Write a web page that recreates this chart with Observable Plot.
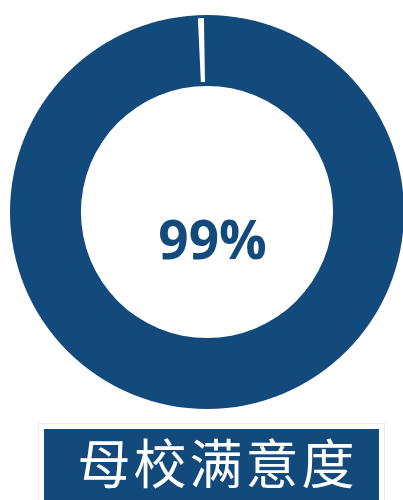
<!DOCTYPE html>
<html>
<head>
<meta charset="utf-8">
<script src="https://cdn.jsdelivr.net/npm/d3@7"></script>
<script src="https://cdn.jsdelivr.net/npm/@observablehq/plot@0.6"></script>
<style>
  html, body { margin: 0; padding: 0; background: #fff; width: 403px; height: 500px; overflow: hidden; }
  #chart svg { display: block; }
  #title {
    position: absolute; left: 44px; top: 429px; width: 335px; height: 71px;
    background: #124a7b; color: #fff;
    font-family: "Noto Sans CJK SC", sans-serif; font-size: 53px; line-height: 64px;
    letter-spacing: 3px; text-align: center; padding-left: 12px; box-sizing: border-box;
    outline: 1px solid #ececec; outline-offset: 5px;
  }
</style>
</head>
<body>
<div id="chart"></div>
<div id="title"></div>
<script>
// Data
const categories = ["满意", "其他"];
const values = [99.5, 0.5];
const colors = ["#124a7b", "#ffffff"];
const centerLabel = "99%";
const titleText = "母校满意度";

const slices = categories.map((c, i) => ({category: c, value: values[i], color: colors[i]}));

const innerRatio = 0.64;
const startDeg = -0.9;

function donut(index, scales, channels, dimensions, context) {
  const cx = scales.x(0), cy = scales.y(0);
  const r = scales.x(1) - scales.x(0);
  const pie = d3.pie().sort(null).value(d => d.value)
    .startAngle(startDeg * Math.PI / 180)
    .endAngle(startDeg * Math.PI / 180 + 2 * Math.PI);
  const arcs = pie(slices);
  const g = d3.create("svg:g").attr("transform", `translate(${cx},${cy})`);
  g.append("path")
    .attr("d", d3.arc().innerRadius(r * innerRatio).outerRadius(r)({startAngle: 0, endAngle: 2 * Math.PI}))
    .attr("fill", arcs[0].data.color);
  g.selectAll("path.s").data(arcs.slice(1)).join("path")
    .attr("class", "s")
    .attr("d", d3.arc().innerRadius(r * innerRatio + 4).outerRadius(r - 3))
    .attr("fill", d => d.data.color);
  return g.node();
}

const plot = Plot.plot({
  width: 403,
  height: 425,
  margin: 0,
  x: {domain: [-1, 1], range: [10, 404], axis: null},
  y: {domain: [-1, 1], range: [410, 14], axis: null},
  marks: [
    donut,
    Plot.text([centerLabel], {
      x: () => 0, y: () => -0.15, text: d => d,
      fill: "#124a7b", fontSize: 53, fontWeight: "bold",
      fontFamily: "Open Sans, sans-serif", dx: 5
    })
  ]
});
document.getElementById("chart").appendChild(plot);
document.getElementById("title").textContent = titleText;
</script>
</body>
</html>
